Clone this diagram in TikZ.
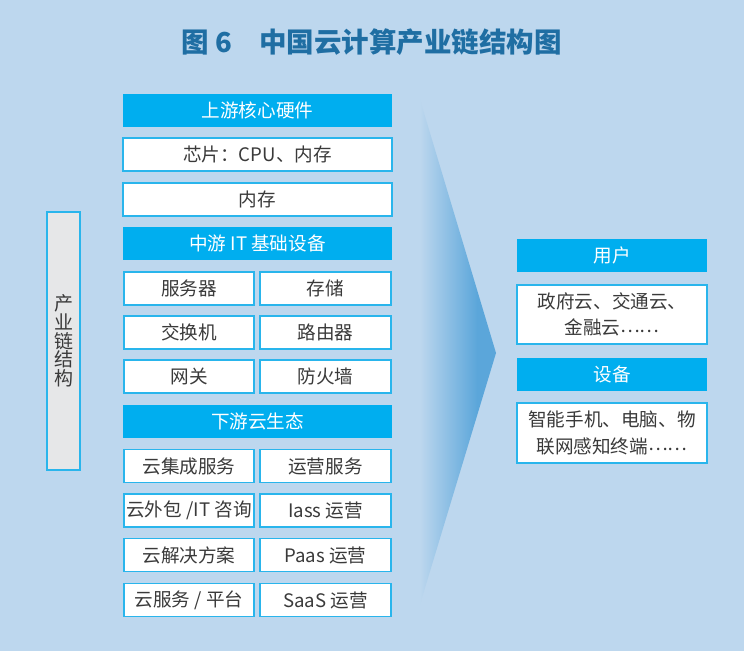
\documentclass[tikz,border=0pt]{standalone}
\usepackage{fontspec}
\setmainfont{Noto Sans CJK SC}
\definecolor{bgblue}{HTML}{BDD7EE}
\definecolor{hdrcyan}{HTML}{00AEEF}
\definecolor{bdrcyan}{HTML}{29B5EC}
\definecolor{titleblue}{HTML}{1F6EA3}
\definecolor{arrowblue}{HTML}{5BA6DA}
\definecolor{greybox}{HTML}{E6E7E8}
\definecolor{txtgrey}{HTML}{3A3A3A}
\pgfdeclarehorizontalshading{arrowsh}{100bp}{color(0bp)=(bgblue); color(26bp)=(bgblue); color(63bp)=(arrowblue); color(100bp)=(arrowblue)}
\newcommand{\dotsdots}{\raisebox{2.5pt}{……}}
\tikzset{
  base/.style={rectangle, inner sep=0pt, outer sep=0pt, font=\fontsize{18.6}{26.5}\selectfont, align=center},
  hdr/.style={base, fill=hdrcyan, text=white, minimum height=33pt},
  wbox/.style={base, fill=white, draw=bdrcyan, line width=1.5pt, text=txtgrey, minimum height=33pt},
  full/.style={minimum width=269pt},
  lcol/.style={minimum width=130pt},
  rcol/.style={minimum width=131pt},
  rbox/.style={minimum width=190pt},
}
\begin{document}
\begin{tikzpicture}[x=1pt,y=-1pt]
\fill[bgblue] (0,0) rectangle (744,651);
\useasboundingbox (0,0) rectangle (744,651);
% title
\node[base, font=\fontsize{27.5}{30}\selectfont\bfseries, text=titleblue] (title) at (371.5,42) {图 6\quad 中国云计算产业链结构图};
% arrow
\shade[shading=arrowsh] (418,93) -- (496,353) -- (418,611) -- cycle;
% left vertical box
\node[base, fill=greybox, draw=bdrcyan, line width=1.5pt, text=txtgrey, minimum width=33pt, minimum height=258pt, font=\fontsize{19}{18.7}\selectfont] (chain) at (63.5,341) {产\\业\\链\\结\\构};
% upstream
\node[hdr, full] (up) at (257.5,110.5) {上游核心硬件};
\node[wbox, full] (chip) at (257.5,154.5) {芯片：CPU、内存};
\node[wbox, full] (mem) at (257.5,199.5) {内存};
% midstream
\node[hdr, full] (mid) at (257.5,243.5) {中游 IT 基础设备};
\node[wbox, lcol] (server) at (189,288.5) {服务器};
\node[wbox, rcol] (storage) at (325.5,288.5) {存储};
\node[wbox, lcol] (switch) at (189,332.5) {交换机};
\node[wbox, rcol] (router) at (325.5,332.5) {路由器};
\node[wbox, lcol] (gateway) at (189,376.5) {网关};
\node[wbox, rcol] (firewall) at (325.5,376.5) {防火墙};
% downstream
\node[hdr, full] (down) at (257.5,421.5) {下游云生态};
\node[wbox, lcol] (integ) at (189,466) {云集成服务};
\node[wbox, rcol] (ops) at (325.5,466) {运营服务};
\node[wbox, lcol] (outs) at (189,510.5) {云外包 /IT 咨询};
\node[wbox, rcol] (iass) at (325.5,510.5) {Iass 运营};
\node[wbox, lcol] (sol) at (189,555) {云解决方案};
\node[wbox, rcol] (paas) at (325.5,555) {Paas 运营};
\node[wbox, lcol] (plat) at (189,600) {云服务 / 平台};
\node[wbox, rcol] (saas) at (325.5,600) {SaaS 运营};
% right side
\node[hdr, rbox] (user) at (612,255.5) {用户};
\node[wbox, rbox, minimum height=59pt] (userlist) at (612,314.5) {政府云、交通云、\\金融云\dotsdots};
\node[hdr, rbox] (dev) at (612,374.5) {设备};
\node[wbox, rbox, minimum height=60pt] (devlist) at (612,433) {智能手机、电脑、物\\联网感知终端\dotsdots};
\end{tikzpicture}
\end{document}
